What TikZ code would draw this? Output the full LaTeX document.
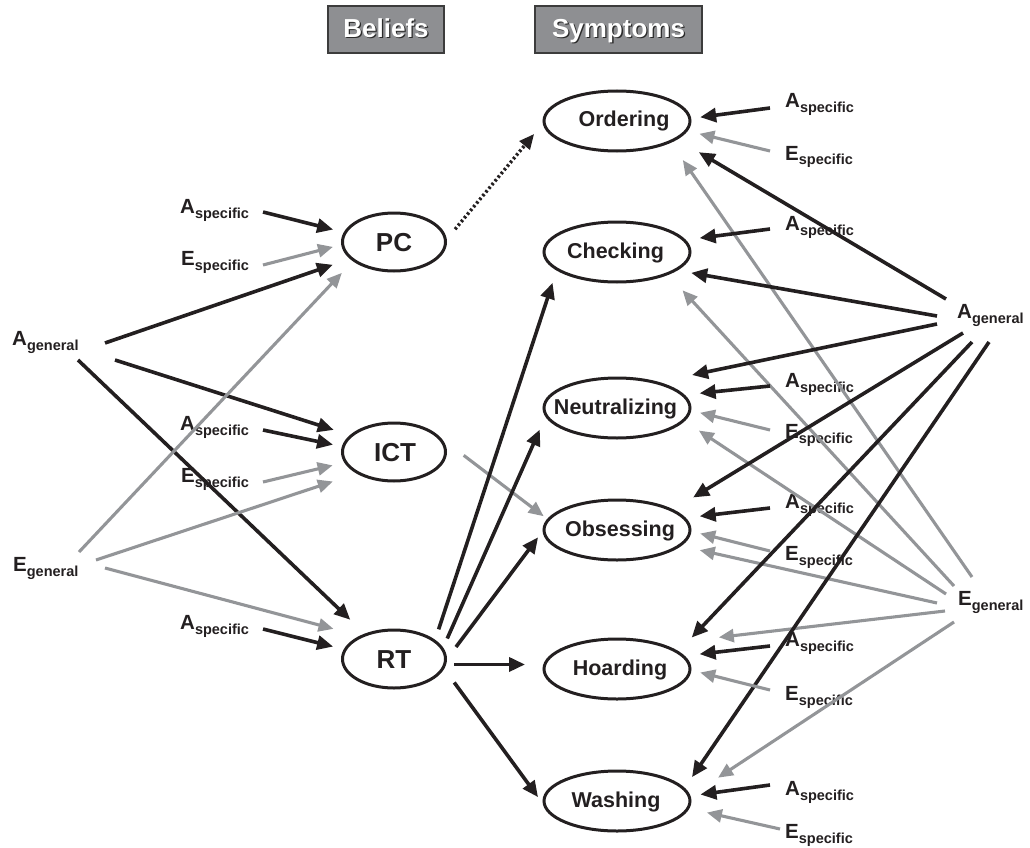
\documentclass[tikz,border=0pt]{standalone}
\usepackage{fontspec}
\setmainfont{Liberation Sans}
\usetikzlibrary{arrows.meta,shapes.geometric}
\definecolor{ink}{HTML}{231F20}
\definecolor{gr}{HTML}{939598}
\definecolor{boxgray}{HTML}{8E8F92}
\definecolor{boxline}{HTML}{3C3C3C}
\definecolor{shd}{HTML}{2B2B2B}
\newcommand{\mylab}[2]{{\fontsize{20.5}{20}\selectfont #1}\raisebox{-5pt}{\fontsize{14.5}{14}\selectfont #2}}
\newcommand{\hdrtext}[1]{\rlap{\hspace{1.3pt}\raisebox{-1.3pt}{\textcolor{shd}{#1}}}\textcolor{white}{#1}}
\tikzset{
  blk/.style={draw=ink,line width=3.6pt,-{Triangle[length=16pt,width=14pt]}},
  gry/.style={draw=gr,line width=3.1pt,-{Triangle[length=15pt,width=13pt]}},
  dotarrow/.style={draw=ink,line width=3.4pt,dash pattern=on 2.4pt off 2.4pt,-{Triangle[length=15pt,width=13pt]}},
  bel/.style={ellipse,draw=ink,line width=3pt,minimum width=103pt,minimum height=58pt,inner sep=0pt,
    font=\fontsize{26}{26}\selectfont\bfseries,text=ink,text height=19pt,text depth=0pt},
  sym/.style={ellipse,draw=ink,line width=3pt,minimum width=146pt,minimum height=60pt,inner sep=0pt,
    font=\fontsize{21.5}{21}\selectfont\bfseries,text=ink,text height=17pt,text depth=5pt},
  lab/.style={inner sep=0pt,anchor=base west,font=\bfseries,text=ink},
  hdr/.style={draw=boxline,line width=1.2pt,fill=boxgray,minimum width=116pt,minimum height=47pt,inner sep=0pt,
    font=\fontsize{26}{26}\selectfont\bfseries,text height=16pt,text depth=0pt}
}
\begin{document}
\begin{tikzpicture}[x=1pt,y=-1pt]
\useasboundingbox (0,0) rectangle (1030,848);
% headers
\node[hdr] (hb) at (386,29.5) {\hdrtext{Beliefs}};
\node[hdr,minimum width=167pt] (hs) at (618.5,29.5) {\hdrtext{Symptoms}};
% beliefs
\node[bel] (pc) at (394,242) {\makebox[0pt]{PC}};
\node[bel] (ict) at (394,452) {\makebox[0pt]{\hspace{2pt}ICT}};
\node[bel] (rt) at (394,659) {\makebox[0pt]{RT}};
% symptoms
\node[sym] (ord) at (617,121) {\makebox[0pt]{\hspace{14pt}Ordering}};
\node[sym] (chk) at (617,252) {\makebox[0pt]{Checking\hspace{3pt}}};
\node[sym] (neu) at (617,408) {\makebox[0pt]{Neutralizing\hspace{3pt}}};
\node[sym] (obs) at (617,530) {\makebox[0pt]{\hspace{6pt}Obsessing}};
\node[sym] (hoa) at (617,669) {\makebox[0pt]{\hspace{6pt}Hoarding}};
\node[sym] (was) at (617,801) {\makebox[0pt]{Washing\hspace{2pt}}};
% left labels
\node[lab] (lAg) at (12,345) {\mylab{A}{general}};
\node[lab] (lEg) at (13,571) {\mylab{E}{general}};
\node[lab] (tApc) at (180,213) {\mylab{A}{specific}};
\node[lab] (tEpc) at (181,265) {\mylab{E}{specific}};
\node[lab] (tAic) at (180,430) {\mylab{A}{specific}};
\node[lab] (tEic) at (181,482) {\mylab{E}{specific}};
\node[lab] (tArt) at (180,629) {\mylab{A}{specific}};
% right labels
\node[lab] (rAg) at (957,318) {\mylab{A}{general}};
\node[lab] (rEg) at (958,605) {\mylab{E}{general}};
\node[lab] (tAor) at (785,108) {\mylab{A}{specific}};
\node[lab] (tEor) at (785,160) {\mylab{E}{specific}};
\node[lab] (tAch) at (785,230) {\mylab{A}{specific}};
\node[lab] (tAne) at (785,387) {\mylab{A}{specific}};
\node[lab] (tEne) at (785,438) {\mylab{E}{specific}};
\node[lab] (tAob) at (785,508) {\mylab{A}{specific}};
\node[lab] (tEob) at (785,560) {\mylab{E}{specific}};
\node[lab] (tAho) at (785,646) {\mylab{A}{specific}};
\node[lab] (tEho) at (785,700) {\mylab{E}{specific}};
\node[lab] (tAwa) at (785,795) {\mylab{A}{specific}};
\node[lab] (tEwa) at (785,838) {\mylab{E}{specific}};
% source coordinates, left
\coordinate (sApc) at (263,212);
\coordinate (sEpc) at (263,265);
\coordinate (sAic) at (263,430);
\coordinate (sEic) at (263,482);
\coordinate (sArt) at (263,629);
\coordinate (lA1) at (105,343);
\coordinate (lA2) at (115,360);
\coordinate (lA3) at (78,360);
\coordinate (lE1) at (79,552);
\coordinate (lE2) at (96,560);
\coordinate (lE3) at (105,568);
% source coordinates, right
\coordinate (sAor) at (770,108);
\coordinate (sEor) at (770,151);
\coordinate (sAch) at (770,229);
\coordinate (sAne) at (770,386);
\coordinate (sEne) at (770,430);
\coordinate (sAob) at (770,508);
\coordinate (sEob) at (770,551);
\coordinate (sAho) at (770,646);
\coordinate (sEho) at (770,690);
\coordinate (sAwa) at (770,785);
\coordinate (sEwa) at (780,829);
\coordinate (rA1) at (946,299);
\coordinate (rA2) at (937,316);
\coordinate (rA3) at (937,324);
\coordinate (rA4) at (963,333);
\coordinate (rA5) at (972,342);
\coordinate (rA6) at (989,342);
\coordinate (rE1) at (972,577);
\coordinate (rE2) at (954,586);
\coordinate (rE3) at (946,594);
\coordinate (rE4) at (937,603);
\coordinate (rE5) at (945,611);
\coordinate (rE6) at (954,622);
% left arrows
\draw[blk,shorten >=11pt] (sApc) -- (pc.169.5);
\draw[blk,shorten >=18pt] (lA1) -- (pc.201.4);
\draw[blk,shorten >=17pt] (lA2) -- (ict.159.4);
\draw[blk,shorten >=9pt] (sAic) -- (ict.174.4);
\draw[blk,shorten >=20pt] (lA3) -- (rt.139.5);
\draw[blk,shorten >=11pt] (sArt) -- (rt.169.5);
\draw[gry,shorten >=8.5pt] (sEpc) -- (pc.183.1);
\draw[gry,shorten >=16pt] (lE1) -- (pc.205.3);
\draw[gry,shorten >=12pt] (sEic) -- (ict.192.9);
\draw[gry,shorten >=25pt] (lE2) -- (ict.210.9);
\draw[gry,shorten >=27pt] (lE3) -- (rt.146.6);
% beliefs to symptoms
\draw[dotarrow,shorten <=13pt,shorten >=13.5pt] (pc.3.3) -- (ord.182);
\draw[gry,shorten <=28pt,shorten >=4.5pt] (ict.16.8) -- (obs.171.8);
\draw[blk,shorten <=11pt,shorten >=13pt] (rt.25.8) -- (chk.197.3);
\draw[blk,shorten <=10pt,shorten >=14pt] (rt.13.7) -- (neu.187.4);
\draw[blk,shorten <=15pt,shorten >=7.5pt] (rt.0) -- (obs.181.5);
\draw[blk,shorten <=8pt,shorten >=17.5pt] (rt.354) -- (rt.354 -| hoa.west);
\draw[blk,shorten <=17pt,shorten >=8pt] (rt.349.8) -- (was.182.9);
% right: E general (gray)
\draw[gry,shorten >=21pt] (rE1) -- (ord.338.1);
\draw[gry,shorten >=21pt] (rE2) -- (chk.336.5);
\draw[gry,shorten >=17pt] (rE3) -- (neu.349.6);
\draw[gry,shorten >=19pt] (rE4) -- (obs.346.2);
\draw[gry,shorten >=57pt] (rE5) -- (hoa.29.9);
\draw[gry,shorten >=33pt] (rE6) -- (was.4.6);
% right: A general (black)
\draw[blk,shorten >=25pt] (rA1) -- (ord.343.7);
\draw[blk,shorten >=14pt] (rA2) -- (chk.343.1);
\draw[blk,shorten >=34pt] (rA3) -- (neu.32);
\draw[blk,shorten >=23pt] (rA4) -- (obs.20.9);
\draw[blk,shorten >=19pt] (rA5) -- (hoa.16.2);
\draw[blk,shorten >=13pt] (rA6) -- (was.11.1);
% right: specific
\draw[blk,shorten >=9pt] (sAor) -- (ord.2.2);
\draw[gry,shorten >=12pt] (sEor) -- (ord.352.8);
\draw[blk,shorten >=14pt] (sAch) -- (chk.10.1);
\draw[blk,shorten >=15pt] (sAne) -- (neu.11.2);
\draw[gry,shorten >=9pt] (sEne) -- (neu.358.6);
\draw[blk,shorten >=14pt] (sAob) -- (obs.10.2);
\draw[gry,shorten >=9pt] (sEob) -- (obs.359.4);
\draw[blk,shorten >=15pt] (sAho) -- (hoa.11.1);
\draw[gry,shorten >=9pt] (sEho) -- (hoa.359.4);
\draw[blk,shorten >=10pt] (sAwa) -- (was.4.5);
\draw[gry,shorten >=18pt] (sEwa) -- (was.354.7);
\end{tikzpicture}
\end{document}
